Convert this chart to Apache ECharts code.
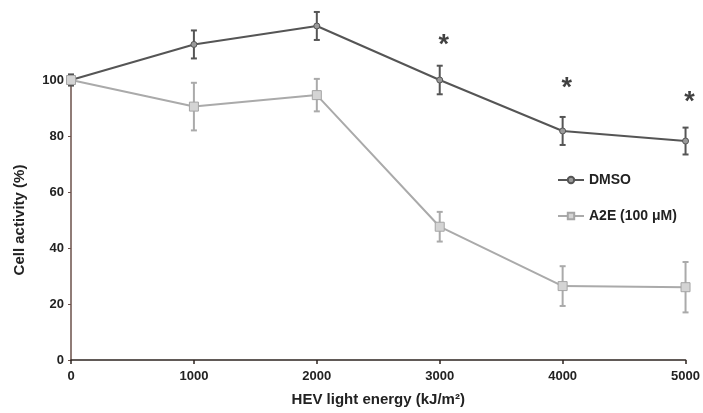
<!DOCTYPE html>
<html>
<head>
<meta charset="utf-8">
<script src="https://cdn.jsdelivr.net/npm/echarts@6/dist/echarts.min.js"></script>
<style>
  html, body { margin: 0; padding: 0; background: #fff; }
  #chart { width: 703px; height: 413px; }
</style>
</head>
<body>
<div id="chart"></div>
<script>
// data
const energy = [0, 1000, 2000, 3000, 4000, 5000];
const dmso = [100, 112.7, 119.3, 100, 81.8, 78.2];
const dmsoErr = [2, 5, 5, 5.1, 5, 4.8];
const a2e = [100, 90.5, 94.6, 47.6, 26.4, 26];
const a2eErr = [1, 8.5, 5.8, 5.3, 7.1, 9];
const sigX = [3000, 4000, 5000];
const sigY = [114.5, 99, 94];
const yTicks = [0, 20, 40, 60, 80, 100];

const font = 'Liberation Sans, Arial, sans-serif';

const errBars = (vals, errs, color) => ({
    type: 'custom',
    clip: false,
    silent: true,
    z: 1,
    data: energy.map((x, i) => [x, vals[i], errs[i]]),
    renderItem: (params, api) => {
        const x = api.value(0), y = api.value(1), e = api.value(2);
        const hi = api.coord([x, y + e]);
        const lo = api.coord([x, y - e]);
        const w = 3;
        const st = { stroke: color, lineWidth: 2 };
        return {
            type: 'group',
            children: [
                { type: 'line', shape: { x1: hi[0], y1: hi[1], x2: lo[0], y2: lo[1] }, style: st },
                { type: 'line', shape: { x1: hi[0] - w, y1: hi[1], x2: hi[0] + w, y2: hi[1] }, style: st },
                { type: 'line', shape: { x1: lo[0] - w, y1: lo[1], x2: lo[0] + w, y2: lo[1] }, style: st }
            ]
        };
    }
});

const chart = echarts.init(document.getElementById('chart'));
chart.setOption({
    animation: false,
    grid: { left: 71, right: 17, top: 80, bottom: 53 },
    legend: {
        orient: 'vertical',
        left: 552,
        top: 168,
        itemGap: 22,
        itemWidth: 26,
        itemHeight: 8,
        textStyle: { fontFamily: font, fontWeight: 'bold', fontSize: 14, color: '#222' },
        data: ['DMSO', 'A2E (100 μM)']
    },
    xAxis: {
        type: 'value',
        min: 0, max: 5000, interval: 1000,
        name: 'HEV light energy (kJ/m²)',
        nameLocation: 'middle',
        nameGap: 32,
        nameTextStyle: { fontFamily: font, fontWeight: 'bold', fontSize: 15, color: '#222' },
        axisLine: { lineStyle: { color: '#2e2420', width: 1.5 } },
        axisTick: { show: true, length: 4, lineStyle: { color: '#2e2420', width: 1.5 } },
        axisLabel: {
            fontFamily: font, fontWeight: 'bold', fontSize: 13, color: '#222', margin: 10,
            formatter: v => String(v)
        },
        splitLine: { show: false }
    },
    yAxis: {
        type: 'value',
        min: 0, max: 100, interval: 20,
        name: 'Cell activity (%)',
        nameLocation: 'middle',
        nameGap: 44,
        nameTextStyle: { fontFamily: font, fontWeight: 'bold', fontSize: 15, color: '#222' },
        axisLine: { show: true, lineStyle: { color: '#6b504a', width: 1.5 } },
        axisTick: { show: true, length: 3, lineStyle: { color: '#6b504a' } },
        axisLabel: {
            fontFamily: font, fontWeight: 'bold', fontSize: 13, color: '#222', margin: 7,
            formatter: v => yTicks.includes(v) ? String(v) : ''
        },
        splitLine: { show: false }
    },
    series: [
        errBars(dmso, dmsoErr, '#555'),
        errBars(a2e, a2eErr, '#aaa'),
        {
            name: 'DMSO',
            type: 'line',
            clip: false,
            z: 3,
            data: energy.map((x, i) => [x, dmso[i]]),
            symbol: 'circle',
            symbolSize: 6,
            lineStyle: { color: '#555', width: 2 },
            itemStyle: { color: '#9a9a9a', borderColor: '#555', borderWidth: 1 }
        },
        {
            name: 'A2E (100 μM)',
            type: 'line',
            clip: false,
            z: 4,
            data: energy.map((x, i) => [x, a2e[i]]),
            symbol: 'rect',
            symbolSize: 9,
            lineStyle: { color: '#aaa', width: 2 },
            itemStyle: { color: '#d4d4d4', borderColor: '#a5a5a5', borderWidth: 1 }
        },
        {
            type: 'scatter',
            silent: true,
            clip: false,
            symbolSize: 0,
            data: sigX.map((x, i) => [x, sigY[i]]),
            label: {
                show: true,
                formatter: '*',
                position: 'inside',
                offset: [4, 6],
                fontFamily: font,
                fontWeight: 'bold',
                fontSize: 27,
                color: '#111'
            }
        }
    ]
});
</script>
</body>
</html>
